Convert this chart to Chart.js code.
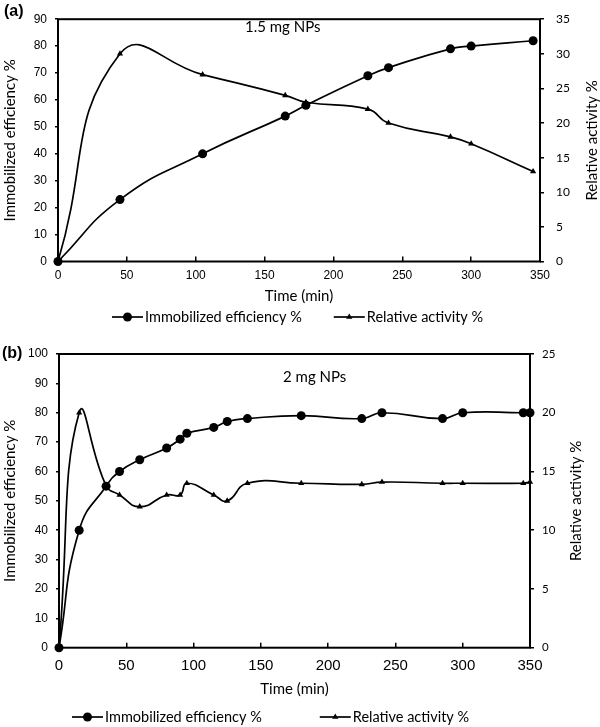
<!DOCTYPE html>
<html>
<head>
<meta charset="utf-8">
<script src="https://cdn.jsdelivr.net/npm/chart.js@4/dist/chart.umd.min.js"></script>
<style>
  html, body { margin: 0; padding: 0; background: #fff; }
  #wrapA { position: absolute; left: 0; top: 0; width: 600px; height: 330px; }
  #wrapB { position: absolute; left: 0; top: 330px; width: 600px; height: 397px; }
</style>
</head>
<body>
<div id="wrapA"><canvas id="chartA"></canvas></div>
<div id="wrapB"><canvas id="chartB"></canvas></div>
<script>
// (a) 1.5 mg NPs
var timeA = [0, 45, 105, 165, 180, 225, 240, 285, 300, 345];
var effA = [0, 23, 40, 54, 58, 69, 72, 79, 80, 82];
var actA = [0, 30, 27, 24, 23, 22, 20, 18, 17, 13];

// (b) 2 mg NPs
var timeB = [0, 15, 35, 45, 60, 80, 90, 95, 115, 125, 140, 180, 225, 240, 285, 300, 345, 350];
var effB = [0, 40, 55, 60, 64, 68, 71, 73, 75, 77, 78, 79, 78, 80, 78, 80, 80, 80];
var actB = [0, 20, 13.8, 13, 12, 13, 13, 14, 13, 12.5, 14, 14, 13.9, 14.1, 14, 14, 14, 14.1];

var seriesNames = ['Immobilized efficiency %', 'Relative activity %'];
var xTitle = 'Time (min)';
var leftTitle = 'Immobilized efficiency %';
var rightTitle = 'Relative activity %';

var CAL = 'Lato, "Open Sans", sans-serif';
var ARIAL = '"Liberation Sans", Arial, sans-serif';

function pairs(xs, ys) {
    return xs.map(function (x, i) { return { x: x, y: ys[i] }; });
}

// box, panel letter, note, right axis title and legend
var paperDecor = {
    id: 'paperDecor',
    beforeDatasetsDraw: function (chart) {
        var a = chart.chartArea, ctx = chart.ctx;
        ctx.save();
        ctx.strokeStyle = '#000';
        ctx.lineWidth = 2;
        ctx.strokeRect(a.left, a.top, a.right - a.left, a.bottom - a.top);
        ctx.restore();
    },
    afterDraw: function (chart, args, o) {
        var ctx = chart.ctx, a = chart.chartArea;
        ctx.save();
        ctx.fillStyle = '#000';
        ctx.strokeStyle = '#000';

        ctx.font = 'bold 16px ' + ARIAL;
        ctx.textBaseline = 'middle';
        ctx.textAlign = 'left';
        ctx.fillText(o.panel, o.panelX, o.panelY);

        ctx.font = '15px ' + CAL;
        ctx.fillText(o.note, o.noteX, o.noteY);

        // right axis title, reading upwards
        ctx.save();
        ctx.translate(o.rightTitleX, (a.top + a.bottom) / 2);
        ctx.rotate(-Math.PI / 2);
        ctx.textAlign = 'center';
        ctx.fillText(rightTitle, 0, 0);
        ctx.restore();

        // legend: line with marker, then text
        var x = o.legendX, y = o.legendY;
        chart.data.datasets.forEach(function (ds) {
            ctx.lineWidth = 1.7;
            ctx.beginPath();
            ctx.moveTo(x, y);
            ctx.lineTo(x + 31, y);
            ctx.stroke();
            Chart.helpers.drawPoint(ctx, {
                pointStyle: ds.pointStyle, radius: ds.pointRadius, rotation: 0, borderWidth: 0
            }, x + 15.5, y);
            ctx.font = '14.5px ' + CAL;
            ctx.textAlign = 'left';
            ctx.fillText(ds.label, x + 33, y);
            x += 33 + ctx.measureText(ds.label).width + o.legendGap;
        });
        ctx.restore();
    }
};

function makeChart(id, p) {
    var common = {
        borderColor: '#000', backgroundColor: '#000',
        pointBackgroundColor: '#000', pointBorderColor: '#000', pointBorderWidth: 0,
        borderWidth: 1.7, tension: 0.5, clip: false, fill: false
    };
    return new Chart(document.getElementById(id), {
        type: 'line',
        data: {
            datasets: [
                Object.assign({}, common, {
                    label: seriesNames[0], data: pairs(p.time, p.eff), yAxisID: 'y',
                    pointStyle: 'circle', pointRadius: 4.5
                }),
                Object.assign({}, common, {
                    label: seriesNames[1], data: pairs(p.time, p.act), yAxisID: 'y1',
                    pointStyle: 'triangle', pointRadius: 3.6
                })
            ]
        },
        options: {
            responsive: true,
            maintainAspectRatio: false,
            animation: false,
            devicePixelRatio: 1,
            layout: { padding: { top: p.padTop, left: 0, right: 0, bottom: p.padBottom } },
            plugins: {
                legend: { display: false },
                tooltip: { enabled: false },
                paperDecor: p.decor
            },
            scales: {
                x: {
                    type: 'linear', position: 'bottom', min: 0, max: 350,
                    ticks: { stepSize: 50, color: '#000', padding: p.xTickPad, maxRotation: 0,
                        font: { family: ARIAL, size: p.xTickSize } },
                    grid: { drawOnChartArea: false, drawTicks: true, tickLength: -5, color: '#000', lineWidth: 1.5 },
                    border: { display: false },
                    title: { display: true, text: xTitle, color: '#000', padding: { top: 0, bottom: 0 },
                        font: { family: CAL, size: 15 } },
                    afterFit: function (s) { s.height = p.xHeight; }
                },
                y: {
                    type: 'linear', position: 'left', min: 0, max: p.leftMax,
                    ticks: { stepSize: 10, color: '#000', padding: 8, font: { family: ARIAL, size: 12 } },
                    grid: { drawOnChartArea: false, drawTicks: true, tickLength: 3, color: '#000', lineWidth: 1.5 },
                    border: { display: false },
                    title: { display: true, text: leftTitle, color: '#000', padding: { top: 1, bottom: 0 },
                        font: { family: CAL, size: 15 } },
                    afterFit: function (s) { s.width = p.leftW; }
                },
                y1: {
                    type: 'linear', position: 'right', min: 0, max: p.rightMax,
                    ticks: { stepSize: 5, color: '#000', padding: p.rTickPad, font: { family: CAL, size: p.rTickSize } },
                    grid: { drawOnChartArea: false, drawTicks: true, tickLength: 4, color: '#000', lineWidth: 1.5 },
                    border: { display: false },
                    afterFit: function (s) { s.width = p.rightW; }
                }
            }
        },
        plugins: [paperDecor]
    });
}

makeChart('chartA', {
    time: timeA, eff: effA, act: actA,
    leftMax: 90, rightMax: 35,
    padTop: 9.5, padBottom: 25, xHeight: 43.5,
    leftW: 58, rightW: 60, xTickPad: 12, xTickSize: 12,
    rTickPad: 12, rTickSize: 12,
    decor: { panel: '(a)', panelX: 4, panelY: 12, note: '1.5 mg NPs', noteX: 245, noteY: 27,
        rightTitleX: 592, legendX: 112, legendY: 317, legendGap: 32 }
});

makeChart('chartB', {
    time: timeB, eff: effB, act: actB,
    leftMax: 100, rightMax: 25,
    padTop: 24, padBottom: 28.6, xHeight: 50.7,
    leftW: 59, rightW: 70, xTickPad: 14, xTickSize: 15,
    rTickPad: 8, rTickSize: 11.5,
    decor: { panel: '(b)', panelX: 2, panelY: 24, note: '2 mg NPs', noteX: 283, noteY: 47,
        rightTitleX: 576, legendX: 72, legendY: 387, legendGap: 58 }
});
</script>
</body>
</html>
